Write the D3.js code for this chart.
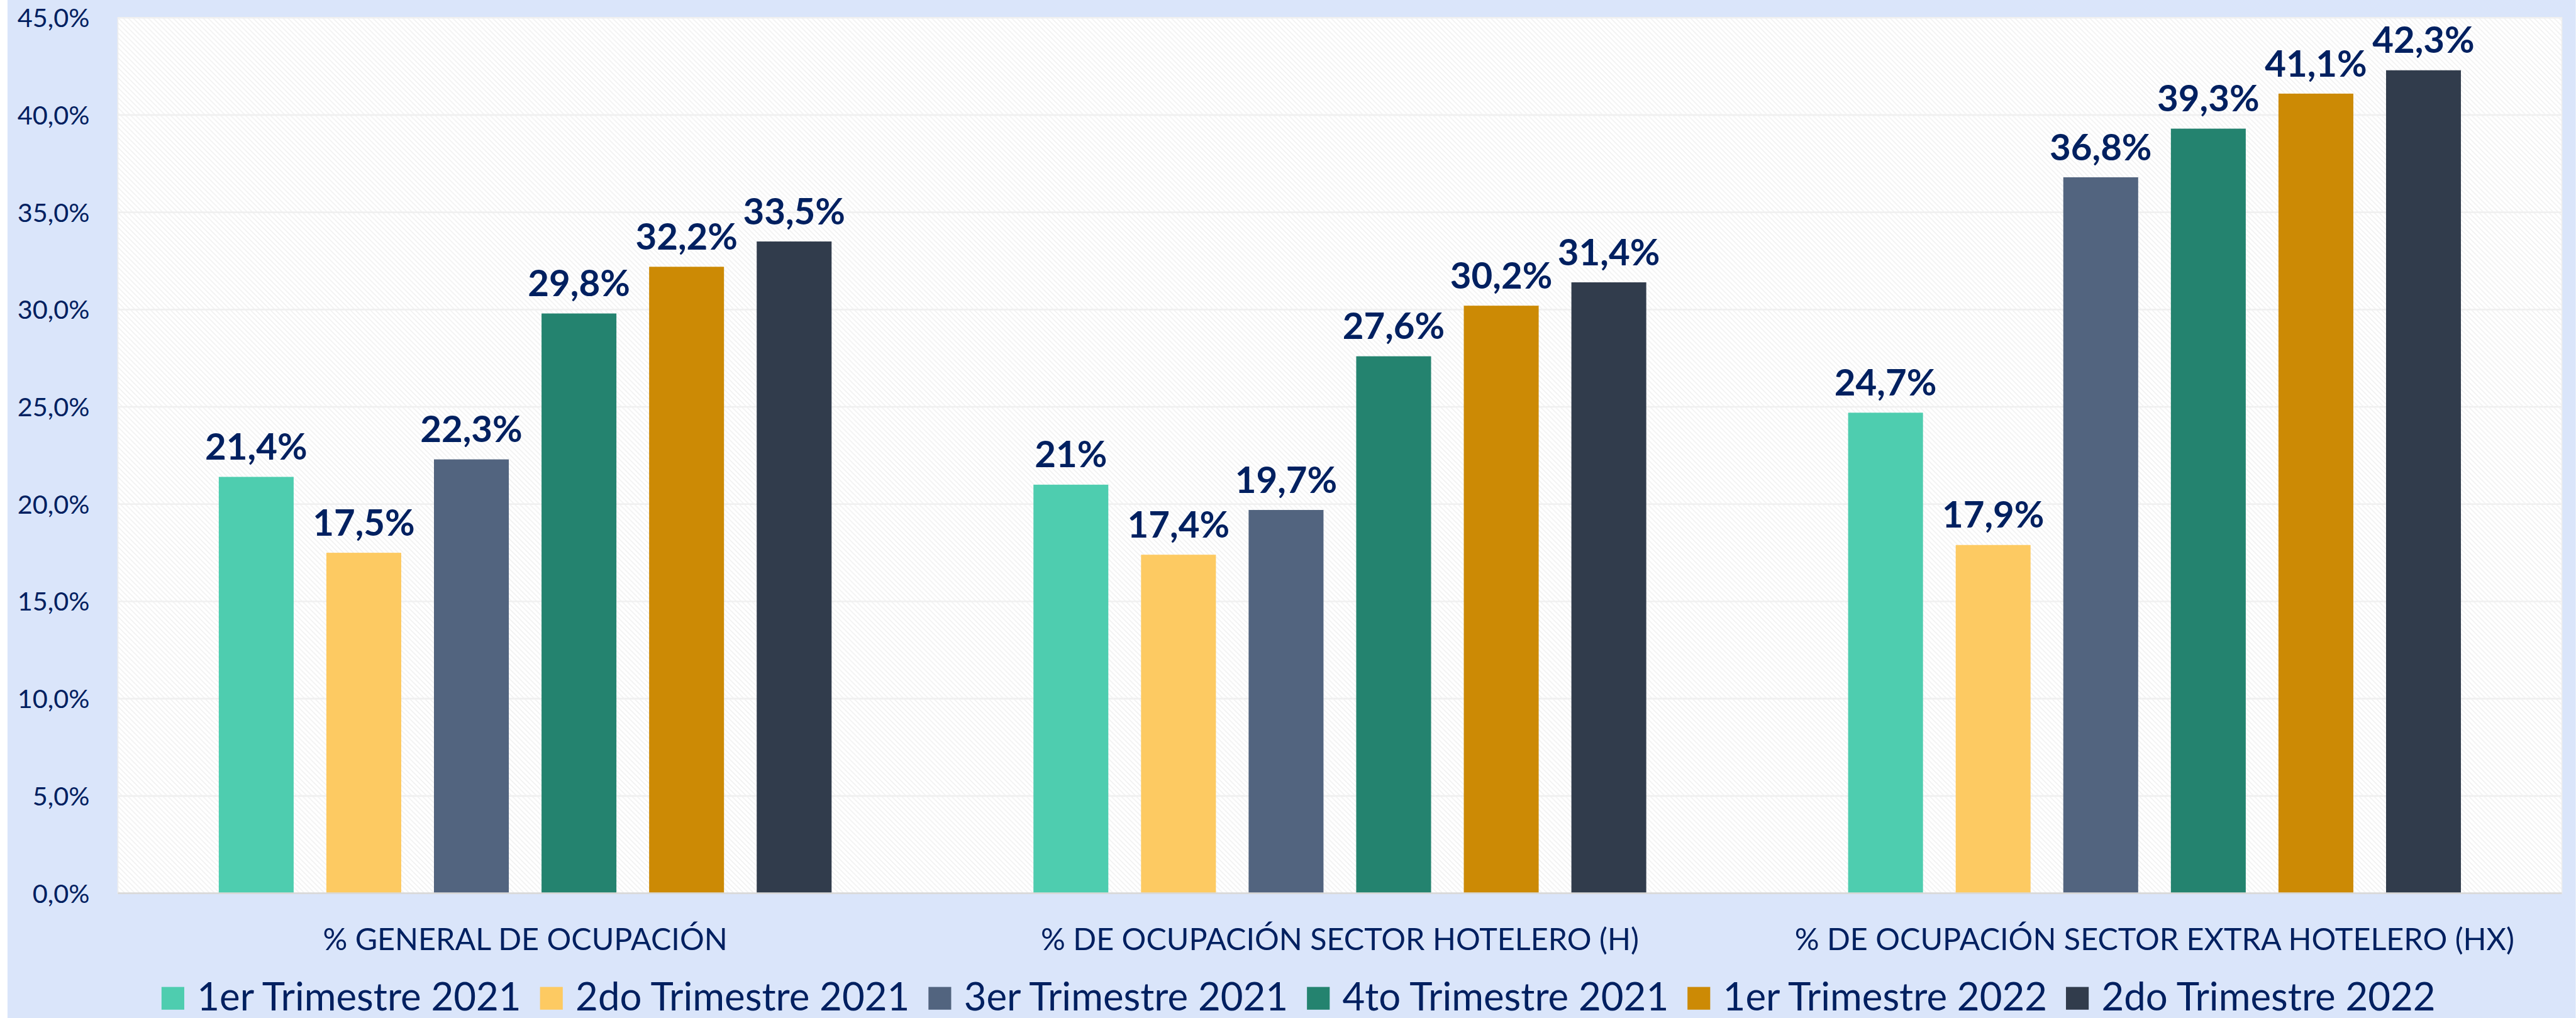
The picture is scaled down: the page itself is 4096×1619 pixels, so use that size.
<!DOCTYPE html>
<html>
<head>
<meta charset="utf-8">
<script src="https://cdn.jsdelivr.net/npm/d3@7"></script>
<style>
  html, body { margin: 0; padding: 0; background: #ffffff; }
  svg { display: block; }
  text { font-family: Lato, "Open Sans", sans-serif; fill: #002060; }
</style>
</head>
<body>
<svg id="chart" width="4096" height="1619" viewBox="0 0 4644 1836"></svg>
<script>
// chart values
var categories = ["% GENERAL DE OCUPACIÓN", "% DE OCUPACIÓN SECTOR HOTELERO (H)", "% DE OCUPACIÓN SECTOR EXTRA HOTELERO (HX)"];
var seriesNames = ["1er Trimestre 2021", "2do Trimestre 2021", "3er Trimestre 2021", "4to Trimestre 2021", "1er Trimestre 2022", "2do Trimestre 2022"];
var seriesColors = ["#4ecdaf", "#fdca62", "#52647f", "#24836f", "#cc8a05", "#313c4c"];
// one array per category, values by series
var generalVals = [21.4, 17.5, 22.3, 29.8, 32.2, 33.5];
var hoteleroVals = [21.0, 17.4, 19.7, 27.6, 30.2, 31.4];
var extraVals = [24.7, 17.9, 36.8, 39.3, 41.1, 42.3];
var generalLabels = ["21,4%", "17,5%", "22,3%", "29,8%", "32,2%", "33,5%"];
var hoteleroLabels = ["21%", "17,4%", "19,7%", "27,6%", "30,2%", "31,4%"];
var extraLabels = ["24,7%", "17,9%", "36,8%", "39,3%", "41,1%", "42,3%"];
var yTicks = [0, 5, 10, 15, 20, 25, 30, 35, 40, 45];

var W = 4644, H = 1836;
var plot = {left: 212, top: 32, right: 4619, bottom: 1611};

var svg = d3.select("#chart");

// backgrounds
svg.append("rect").attr("x", 0).attr("y", 0).attr("width", W).attr("height", H).attr("fill", "#ffffff");
svg.append("rect").attr("x", 13).attr("y", 0).attr("width", W - 13).attr("height", H).attr("fill", "#dae5fa");

var defs = svg.append("defs");
var pat = defs.append("pattern")
  .attr("id", "hatch")
  .attr("patternUnits", "userSpaceOnUse")
  .attr("width", 9).attr("height", 9);
pat.append("rect").attr("width", 9).attr("height", 9).attr("fill", "#ffffff");
pat.append("path")
  .attr("d", "M0,0 L9,9 M-3,6 L3,12 M6,-3 L12,3")
  .attr("stroke", "#efefef")
  .attr("stroke-width", 1.6);

svg.append("rect")
  .attr("x", plot.left).attr("y", plot.top)
  .attr("width", plot.right - plot.left).attr("height", plot.bottom - plot.top)
  .attr("fill", "url(#hatch)")
  .attr("stroke", "#eeeeee")
  .attr("stroke-width", 2);

var x0 = d3.scaleBand()
  .domain(categories)
  .range([plot.left, plot.right])
  .padding(0);

var bw = x0.bandwidth();
var outer = bw * 182 / 1469;
var x1 = d3.scaleBand()
  .domain(seriesNames)
  .range([outer, bw - outer])
  .paddingInner(59 / 194)
  .paddingOuter(0);

var y = d3.scaleLinear().domain([0, 45]).range([plot.bottom, plot.top]);

// gridlines
svg.append("g")
  .selectAll("line")
  .data(yTicks.slice(1))
  .join("line")
  .attr("x1", plot.left).attr("x2", plot.right)
  .attr("y1", function(d) { return y(d); })
  .attr("y2", function(d) { return y(d); })
  .attr("stroke", "#f0f0f0")
  .attr("stroke-width", 3);

// y axis
var yAxis = d3.axisLeft(y)
  .tickValues(yTicks)
  .tickSize(0)
  .tickPadding(0)
  .tickFormat(function(d) { return d3.format(".1f")(d).replace(".", ",") + "%"; });

var yg = svg.append("g")
  .attr("transform", "translate(161,0)")
  .call(yAxis);
yg.select(".domain").remove();
yg.selectAll("text")
  .attr("font-size", 47)
  .attr("dy", "0.35em")
  .style("fill", "#002060")
  .style("font-family", "Lato, sans-serif");

// bars
var table = [
  {cat: categories[0], vals: generalVals, labels: generalLabels},
  {cat: categories[1], vals: hoteleroVals, labels: hoteleroLabels},
  {cat: categories[2], vals: extraVals, labels: extraLabels}
];

var groups = svg.append("g")
  .selectAll("g")
  .data(table)
  .join("g")
  .attr("transform", function(d) { return "translate(" + x0(d.cat) + ",0)"; });

groups.selectAll("rect")
  .data(function(d) {
    return d.vals.map(function(v, i) { return {s: seriesNames[i], v: v, lab: d.labels[i], c: seriesColors[i]}; });
  })
  .join("rect")
  .attr("x", function(d) { return x1(d.s); })
  .attr("width", x1.bandwidth())
  .attr("y", function(d) { return y(d.v); })
  .attr("height", function(d) { return y(0) - y(d.v); })
  .attr("fill", function(d) { return d.c; });

groups.selectAll("text")
  .data(function(d) {
    return d.vals.map(function(v, i) { return {s: seriesNames[i], v: v, lab: d.labels[i]}; });
  })
  .join("text")
  .attr("x", function(d) { return x1(d.s) + x1.bandwidth() / 2; })
  .attr("y", function(d) { return y(d.v) - 31; })
  .attr("text-anchor", "middle")
  .attr("font-size", 66)
  .attr("font-weight", "bold")
  .text(function(d) { return d.lab; });

// x axis line
svg.append("line")
  .attr("x1", plot.left).attr("x2", plot.right)
  .attr("y1", plot.bottom).attr("y2", plot.bottom)
  .attr("stroke", "#d9d9d9")
  .attr("stroke-width", 3);

// category labels
svg.append("g")
  .selectAll("text")
  .data(categories)
  .join("text")
  .attr("x", function(d) { return x0(d) + bw / 2; })
  .attr("y", 1713)
  .attr("text-anchor", "middle")
  .attr("font-size", 55)
  .text(function(d) { return d; });

// legend
var leg = svg.append("g");
var items = leg.selectAll("g")
  .data(seriesNames)
  .join("g");
items.append("rect")
  .attr("x", 0).attr("y", 1780)
  .attr("width", 41).attr("height", 41)
  .attr("fill", function(d, i) { return seriesColors[i]; });
items.append("text")
  .attr("x", 64).attr("y", 1822)
  .attr("font-size", 70)
  .text(function(d) { return d; });

var gap = 34;
var xpos = 0;
items.each(function() {
  var g = d3.select(this);
  var tw = g.select("text").node().getComputedTextLength();
  g.attr("transform", "translate(" + xpos + ",0)");
  xpos += 64 + tw + gap;
});
var legW = xpos - gap;
leg.attr("transform", "translate(" + (2341 - legW / 2) + ",0)");
</script>
</body>
</html>
